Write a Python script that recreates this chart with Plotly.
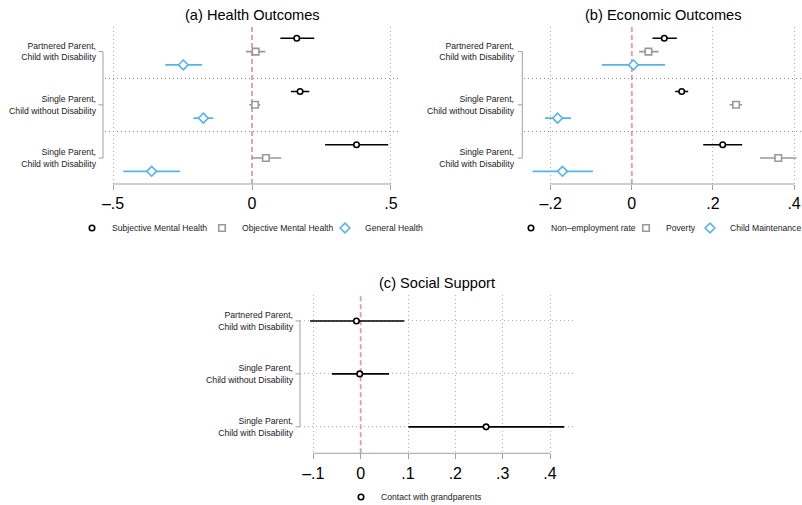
import plotly.graph_objects as go

W, H = 802, 505
FONT = "Liberation Sans, Arial, Helvetica, sans-serif"

# ---- row labels shared by all panels ----
groups = ["Partnered Parent,<br>Child with Disability",
          "Single Parent,<br>Child without Disability",
          "Single Parent,<br>Child with Disability"]

# ---- (a) Health Outcomes: point estimate and 95% CI ----
subj_est = [0.161, 0.173, 0.376]
subj_lo = [0.102, 0.140, 0.263]
subj_hi = [0.224, 0.206, 0.490]

obj_est = [0.013, 0.011, 0.050]
obj_lo = [-0.022, -0.010, -0.001]
obj_hi = [0.048, 0.030, 0.105]

gen_est = [-0.247, -0.175, -0.361]
gen_lo = [-0.312, -0.211, -0.463]
gen_hi = [-0.180, -0.139, -0.259]

# ---- (b) Economic Outcomes ----
nonemp_est = [0.080, 0.123, 0.224]
nonemp_lo = [0.051, 0.107, 0.176]
nonemp_hi = [0.111, 0.139, 0.272]

pov_est = [0.041, 0.257, 0.361]
pov_lo = [0.018, 0.241, 0.316]
pov_hi = [0.066, 0.272, 0.406]

cm_est = [0.004, -0.183, -0.171]
cm_lo = [-0.074, -0.214, -0.245]
cm_hi = [0.082, -0.150, -0.096]

# ---- (c) Social Support ----
gp_est = [-0.009, -0.002, 0.265]
gp_lo = [-0.107, -0.061, 0.101]
gp_hi = [0.092, 0.060, 0.430]

# ---- tick labels ----
ticks_a = [-0.5, 0, 0.5]
ticktext_a = ["\u2013.5", "0", ".5"]
ticks_b = [-0.2, 0, 0.2, 0.4]
ticktext_b = ["\u2013.2", "0", ".2", ".4"]
ticks_c = [-0.1, 0, 0.1, 0.2, 0.3, 0.4]
ticktext_c = ["\u2013.1", "0", ".1", ".2", ".3", ".4"]

BLACK, GRAY, BLUE = "#000000", "#999999", "#56B4E9"
PINK = "#CC79A7"
AXIS_GRAY = "#a0a0a0"
STYLES = [("circle", 5.5, BLACK), ("square", 6.5, GRAY), ("diamond", 7.5, BLUE)]


def px(x):
    return x / W


def py(y):
    return 1 - y / H


fig = go.Figure()

# each legend key gets its own legend box: (left edge in px, vertical centre in px)
legend_boxes = {}


def add_series(n, s, name, est, lo, hi, ypos, legend, box):
    sym, size, col = STYLES[s]
    legend_boxes[legend] = box
    fig.add_trace(go.Scatter(
        x=est, y=ypos, mode="markers", name=name,
        xaxis="x" if n == 1 else f"x{n}", yaxis="y" if n == 1 else f"y{n}",
        legend=legend,
        marker=dict(symbol=sym, size=size, color="white",
                    line=dict(color=col, width=1.6)),
        error_x=dict(type="data", symmetric=False,
                     array=[h - e for e, h in zip(est, hi)],
                     arrayminus=[e - l for e, l in zip(est, lo)],
                     color=col, thickness=1.6, width=0),
        hoverinfo="x+name",
    ))


# panels (a) and (b): three series per group, groups separated by a gap row
a_series = [("Subjective Mental Health", subj_est, subj_lo, subj_hi),
            ("Objective Mental Health", obj_est, obj_lo, obj_hi),
            ("General Health", gen_est, gen_lo, gen_hi)]
b_series = [("Non\u2013employment rate", nonemp_est, nonemp_lo, nonemp_hi),
            ("Poverty", pov_est, pov_lo, pov_hi),
            ("Child Maintenance", cm_est, cm_lo, cm_hi)]

a_keys = [("legend", (72, 228)), ("legend2", (202, 228)), ("legend3", (325, 228))]
b_keys = [("legend4", (511, 228)), ("legend5", (626, 228)), ("legend6", (690, 228))]

for s, (name, e, l, h) in enumerate(a_series):
    add_series(1, s, name, e, l, h, [4 * g + s for g in range(len(groups))], *a_keys[s])
for s, (name, e, l, h) in enumerate(b_series):
    add_series(2, s, name, e, l, h, [4 * g + s for g in range(len(groups))], *b_keys[s])
add_series(3, 0, "Contact with grandparents", gp_est, gp_lo, gp_hi,
           list(range(len(groups))), "legend7", (341, 497))

group_ticks_ab = [4 * g + 1 for g in range(len(groups))]
separators_ab = [4 * g + 3 for g in range(len(groups) - 1)]
group_ticks_c = list(range(len(groups)))

GRID_DASH = "1px,3px"


def xaxis(domain, rng, tvals, ttext, anchor):
    return dict(
        domain=domain, range=rng, anchor=anchor,
        tickmode="array", tickvals=tvals, ticktext=ttext,
        ticks="outside", ticklen=5, tickwidth=1, tickcolor=AXIS_GRAY,
        tickfont=dict(family=FONT, size=16, color="#000"),
        showgrid=False, zeroline=False, showline=False, automargin=False,
        minor=dict(tickvals=[v for v in tvals if v != 0], showgrid=True,
                   gridcolor="#b4b4b4", griddash=GRID_DASH, gridwidth=1, ticks=""),
    )


def yaxis(domain, rng, tvals, anchor, standoff, seps=None, grid=False):
    d = dict(
        domain=domain, range=rng, anchor=anchor,
        tickmode="array", tickvals=tvals, ticktext=groups,
        ticks="", ticklabelstandoff=standoff,
        tickfont=dict(family=FONT, size=8.7, color="#222"),
        showgrid=grid, gridcolor="#b4b4b4", griddash=GRID_DASH, gridwidth=1,
        zeroline=False, showline=False, automargin=False,
    )
    if seps:
        d["minor"] = dict(tickvals=seps, showgrid=True, gridcolor="#8c8c8c",
                          griddash=GRID_DASH, gridwidth=1, ticks="")
    return d


ydom_ab = [py(184), py(26.7)]
ydom_c = [py(453.3), py(295)]

fig.update_layout(
    width=W, height=H,
    margin=dict(l=0, r=0, t=0, b=0, autoexpand=False),
    paper_bgcolor="white", plot_bgcolor="white",
    font=dict(family=FONT, color="#000"),
    xaxis=xaxis([px(105), px(400)], [-0.5288, 0.5324], ticks_a, ticktext_a, "y"),
    yaxis=yaxis(ydom_ab, [10.95, -0.87], group_ticks_ab, "x", 8, seps=separators_ab),
    xaxis2=xaxis([px(524), px(802)], [-0.2658, 0.4195], ticks_b, ticktext_b, "y2"),
    yaxis2=yaxis(ydom_ab, [10.95, -0.87], group_ticks_ab, "x2", 9, seps=separators_ab),
    xaxis3=xaxis([px(300), px(573)], [-0.1282, 0.4486], ticks_c, ticktext_c, "y3"),
    yaxis3=yaxis(ydom_c, [2.5, -0.49], group_ticks_c, "x3", 6, grid=True),
    showlegend=True,
)

for key, (lx, ly) in legend_boxes.items():
    fig.update_layout({key: dict(
        orientation="h", xanchor="left", yanchor="middle",
        x=px(lx), y=py(ly),
        font=dict(family=FONT, size=8.6, color="#222"),
        bgcolor="rgba(0,0,0,0)", itemwidth=30,
        itemclick=False, itemdoubleclick=False)})

shapes = []
annotations = []
panels = [
    (1, "(a) Health Outcomes", ticks_a, group_ticks_ab, 103),
    (2, "(b) Economic Outcomes", ticks_b, group_ticks_ab, 522.3),
    (3, "(c) Social Support", ticks_c, group_ticks_c, 300),
]
title_y = {1: 15, 2: 15, 3: 283}
for n, title, tv, gt, bx in panels:
    xr = "x" if n == 1 else f"x{n}"
    yr = "y" if n == 1 else f"y{n}"
    # reference line at zero
    shapes.append(dict(type="line", xref=xr, yref=f"{yr} domain", x0=0, x1=0, y0=0, y1=1,
                       line=dict(color=PINK, width=1.8, dash="5px,3px"),
                       opacity=0.75, layer="below"))
    # x axis line spanning the labelled range
    shapes.append(dict(type="line", xref=xr, yref=f"{yr} domain", x0=min(tv), x1=max(tv),
                       y0=0, y1=0, line=dict(color=AXIS_GRAY, width=1), layer="above"))
    # bracket on the y axis joining the group labels
    shapes.append(dict(type="line", xref="paper", yref=yr, x0=px(bx), x1=px(bx),
                       y0=min(gt), y1=max(gt), line=dict(color=AXIS_GRAY, width=1)))
    for g in gt:
        shapes.append(dict(type="line", xref="paper", yref=yr, x0=px(bx - 4.5), x1=px(bx),
                           y0=g, y1=g, line=dict(color=AXIS_GRAY, width=1)))
    annotations.append(dict(text=title, xref=f"{xr} domain", yref="paper", x=0.5,
                            y=py(title_y[n]), xanchor="center", yanchor="middle",
                            showarrow=False, font=dict(family=FONT, size=14.6, color="#000")))

fig.update_layout(shapes=shapes, annotations=annotations)

fig.write_html("out.html")
